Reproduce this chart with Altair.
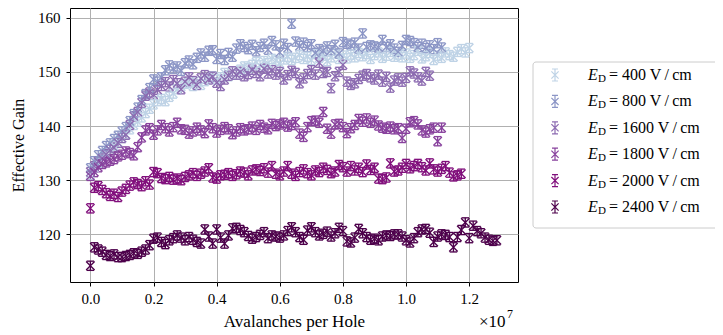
import altair as alt
import pandas as pd

# ---------------- data ----------------
labels = ["400", "800", "1600", "1800", "2000", "2400"]
colors = ["#bfd3e6", "#8c96c6", "#8c6bb1", "#88419d", "#810f7c", "#4d004b"]
step = 0.0125  # spacing of measurements, in units of 1e7 avalanches per hole
err = 0.85     # half height of error bars

y_400 = [131.0, 132.3, 133.2, 134.0, 134.9, 135.6, 136.4, 137.0,
         137.8, 138.5, 139.4, 140.2, 140.8, 141.6, 142.4, 143.2,
         144.0, 144.6, 145.0, 144.6, 145.4, 146.0, 146.8, 147.3,
         147.8, 148.0, 147.4, 148.2, 147.6, 148.3, 148.8, 149.2,
         148.6, 149.0, 149.8, 149.2, 150.1, 149.5, 150.4, 151.0,
         150.7, 151.3, 151.8, 151.2, 152.0, 151.6, 152.4, 152.1,
         151.6, 152.3, 152.8, 152.2, 152.6, 153.1, 152.4, 152.8,
         152.2, 153.3, 152.6, 153.0, 152.0, 152.7, 153.4, 152.4,
         153.0, 152.5, 153.2, 152.7, 153.5, 152.9, 153.3, 152.4,
         153.1, 153.6, 152.6, 153.0, 153.7, 152.8, 153.2, 152.7,
         153.4, 152.6, 153.1, 153.9, 152.5, 152.9, 153.5, 152.2,
         153.0, 152.6, 153.6, 153.1, 152.8, 153.7, 154.2, 153.6,
         154.4]
y_800 = [132.2, 133.5, 134.6, 135.4, 136.3, 136.8, 137.6, 138.2,
         139.0, 139.8, 140.9, 142.2, 143.4, 144.8, 145.9, 147.0,
         148.6, 148.2, 149.0, 150.3, 151.2, 150.6, 151.0, 150.2,
         151.6, 152.1, 151.4, 152.6, 153.4, 152.8, 153.9, 154.0,
         152.4, 153.3, 152.2, 153.5, 152.8, 154.3, 155.1, 154.6,
         154.2, 155.0, 153.8, 154.6, 155.2, 154.1, 155.7, 154.9,
         153.6, 155.2, 154.4, 158.9, 155.6, 154.8, 155.4, 154.6,
         155.1, 153.5, 154.2, 153.9, 154.7, 154.0, 155.0, 153.4,
         155.5, 155.2, 154.9, 155.4, 154.3, 157.1, 154.6, 154.9,
         154.7, 154.5, 155.9, 154.6, 155.1, 154.3, 153.7, 154.8,
         155.9, 155.7, 155.3, 154.6, 155.2, 154.4, 154.9, 154.2,
         155.3, 154.5]
y_1600 = [131.5, 132.6, 133.4, 134.0, 134.8, 135.6, 136.0, 136.9,
          137.8, 138.4, 140.2, 141.8, 142.6, 144.3, 145.6, 146.2,
          145.8, 146.7, 147.4, 148.1, 147.3, 148.5, 147.9, 146.8,
          148.2, 149.0, 148.3, 147.6, 148.8, 149.4, 148.6, 149.1,
          148.0, 147.4, 148.6, 149.3, 150.1, 149.5, 150.0, 149.2,
          149.6, 150.4, 149.8, 149.2, 150.6, 149.7, 150.3, 149.5,
          150.0, 148.6, 149.4, 150.2, 149.8, 147.9, 148.8, 149.6,
          150.3, 149.5, 151.7, 149.8, 150.0, 147.0, 149.2, 150.0,
          151.3, 148.2, 147.6, 147.9, 148.7, 149.3, 149.6, 149.0,
          148.6, 149.5, 148.2, 149.1, 147.1, 148.4, 148.8, 148.2,
          148.9, 150.1, 149.7, 149.0, 148.4, 150.0, 149.3]
y_1800 = [130.8, 131.5, 132.4, 133.0, 133.3, 133.6, 133.9, 134.4,
          134.7, 135.3, 135.0, 134.6, 136.1, 137.9, 139.2, 139.6,
          138.4, 139.2, 140.2, 139.6, 139.0, 139.8, 140.6, 139.4,
          139.3, 138.6, 139.0, 139.7, 139.2, 138.7, 140.3, 139.6,
          138.8, 139.3, 139.8, 139.4, 138.5, 139.0, 139.6, 139.2,
          139.4, 139.9, 139.3, 140.2, 139.7, 139.4, 140.4, 140.0,
          140.3, 140.6, 139.9, 140.2, 140.7, 138.6, 138.0, 139.8,
          140.9, 141.0, 140.6, 142.6, 139.5, 138.6, 140.3, 140.4,
          139.8, 138.7, 139.6, 140.2, 141.3, 140.8, 141.4, 140.6,
          141.0, 140.1, 139.7, 139.5, 139.9, 139.4, 139.6, 137.8,
          139.5, 140.7, 140.9, 140.3, 139.2, 138.8, 139.4, 139.7,
          137.2, 139.7]
y_2000 = [124.8, 128.6, 128.9, 128.2, 127.6, 127.1, 127.5, 126.9,
          127.9, 128.4, 129.0, 129.6, 129.3, 128.9, 129.8, 129.2,
          131.5, 131.3, 130.4, 130.2, 130.6, 130.1, 130.3, 130.0,
          130.6, 130.9, 131.3, 130.8, 131.2, 131.6, 132.2, 130.5,
          130.3, 130.9, 131.0, 131.3, 130.8, 131.1, 131.6, 131.4,
          130.9, 131.8, 132.0, 131.7, 132.2, 131.4, 132.6, 131.2,
          130.9, 131.6, 132.6, 131.2, 130.8, 131.5, 132.0, 131.3,
          130.9, 131.8, 131.5, 132.3, 131.9, 131.3, 131.6, 132.8,
          132.4, 131.6, 132.6, 131.8, 132.3, 131.5, 132.9, 131.9,
          132.3, 130.3, 130.2, 130.5, 133.1, 131.6, 131.8, 132.3,
          133.0, 132.2, 132.6, 133.0, 132.4, 131.8, 133.1, 132.0,
          131.6, 132.1, 132.6, 131.4, 130.7, 130.9, 131.2]
y_2400 = [114.2, 117.6, 117.2, 116.8, 116.2, 116.0, 116.3, 115.8,
          115.8, 116.0, 116.2, 116.5, 116.4, 116.8, 117.2, 118.0,
          119.2, 119.4, 118.6, 118.2, 118.9, 119.3, 119.8, 119.4,
          118.9, 119.5, 119.0, 118.6, 118.3, 120.9, 119.6, 118.3,
          120.9, 119.4, 118.3, 119.8, 121.1, 121.2, 120.8, 120.4,
          119.7, 119.2, 119.5, 119.9, 120.4, 119.3, 119.8, 119.6,
          119.4, 119.8, 120.6, 121.3, 120.4, 119.5, 119.0, 120.7,
          121.3, 120.4, 119.8, 120.1, 120.5, 119.6, 120.2, 121.2,
          120.6, 118.7, 118.5, 119.4, 121.0, 120.2, 119.5, 119.0,
          119.2, 118.9, 119.6, 119.8, 119.7, 120.0, 120.0, 119.6,
          118.9, 118.5, 119.3, 120.4, 120.9, 121.0, 120.3, 118.6,
          119.6, 120.0, 119.9, 119.5, 117.6, 119.5, 120.8, 122.2,
          119.3, 121.6, 120.6, 120.2, 119.4, 119.0, 118.8, 118.9]
series_values = [y_400, y_800, y_1600, y_1800, y_2000, y_2400]

x_ticks = [0.0, 0.2, 0.4, 0.6, 0.8, 1.0, 1.2]
y_ticks = [120, 130, 140, 150, 160]
legend_text = ["= 400 V\u2009/\u2009cm", "= 800 V\u2009/\u2009cm", "= 1600 V\u2009/\u2009cm",
               "= 1800 V\u2009/\u2009cm", "= 2000 V\u2009/\u2009cm", "= 2400 V\u2009/\u2009cm"]

rows = []
for lab, ys in zip(labels, series_values):
    for i, v in enumerate(ys):
        rows.append({"series": lab, "x": i * step, "y": v,
                     "lo": v - err, "hi": v + err})
df = pd.DataFrame(rows)
leg_df = pd.DataFrame({"series": labels, "label": legend_text})
one = pd.DataFrame({"a": [0]})

FONT = "Liberation Serif"
W, H = 448, 274
SW = 1.35

xsc = alt.Scale(domain=[-0.0645, 1.3545], nice=False, zero=False)
ysc = alt.Scale(domain=[111.2, 161.8], nice=False, zero=False)
col = alt.Color("series:N", scale=alt.Scale(domain=labels, range=colors), legend=None)

xax = alt.Axis(values=x_ticks, format=".1f", title="Avalanches per Hole",
               grid=True, titlePadding=7, labelPadding=5)
yax = alt.Axis(values=y_ticks, format="d", title="Effective Gain",
               grid=True, titlePadding=11, labelPadding=6, titleFontSize=16)

base = alt.Chart(df)
bars = base.mark_rule(strokeWidth=SW).encode(
    x=alt.X("x:Q", scale=xsc, axis=xax),
    y=alt.Y("lo:Q", scale=ysc, axis=yax),
    y2="hi:Q", color=col)
cap_lo = base.mark_point(shape="M-1,0L1,0", size=56, filled=False, strokeWidth=SW, opacity=1).encode(
    x=alt.X("x:Q", scale=xsc), y=alt.Y("lo:Q", scale=ysc), color=col)
cap_hi = base.mark_point(shape="M-1,0L1,0", size=56, filled=False, strokeWidth=SW, opacity=1).encode(
    x=alt.X("x:Q", scale=xsc), y=alt.Y("hi:Q", scale=ysc), color=col)
pts = base.mark_point(shape="M-1,-1L1,1M-1,1L1,-1", size=72, filled=False, strokeWidth=SW, opacity=1).encode(
    x=alt.X("x:Q", scale=xsc), y=alt.Y("y:Q", scale=ysc), color=col)

offset_main = alt.Chart(one).mark_text(text="×10", font=FONT, fontSize=17, align="left",
                                       baseline="alphabetic", color="black").encode(
    x=alt.value(409), y=alt.value(319))
offset_exp = alt.Chart(one).mark_text(text="7", font=FONT, fontSize=12, align="left",
                                      baseline="alphabetic", color="black").encode(
    x=alt.value(437), y=alt.value(310))

main = alt.layer(bars, cap_lo, cap_hi, pts, offset_main, offset_exp)

# legend
box = alt.Chart(one).mark_rect(fill="white", stroke="#cccccc", strokeWidth=1, cornerRadius=3).encode(
    x=alt.value(463), x2=alt.value(652), y=alt.value(54), y2=alt.value(220))
lsc = alt.Scale(domain=labels, range=[67, 199], padding=0)
ly = alt.Y("series:N", scale=lsc, axis=None, sort=labels)
lbase = alt.Chart(leg_df)
lsym = lbase.mark_point(
    shape="M0,-1L0,1M-0.5,-1L0.5,-1M-0.5,1L0.5,1M-0.6,-0.6L0.6,0.6M-0.6,0.6L0.6,-0.6",
    size=144, filled=False, strokeWidth=1.2, opacity=1).encode(x=alt.value(485), y=ly, color=col)
lE = lbase.mark_text(text="E", font=FONT, fontSize=16, fontStyle="italic", align="left",
                     baseline="middle", color="black").encode(x=alt.value(518), y=ly)
lD = lbase.mark_text(text="D", font=FONT, fontSize=11, align="left", baseline="middle",
                     dy=4, color="black").encode(x=alt.value(528), y=ly)
lT = lbase.mark_text(font=FONT, fontSize=16, align="left", baseline="middle",
                     color="black").encode(x=alt.value(539), y=ly, text="label:N")
legend = alt.layer(box, lsym, lE, lD, lT)

chart = alt.layer(main, legend).resolve_scale(y="independent").properties(
    width=W, height=H,
    autosize=alt.AutoSizeParams(type="none"),
    padding={"left": 62, "top": 0, "right": 197, "bottom": 53},
).configure_view(stroke="black", strokeWidth=1).configure_axis(
    labelFont=FONT, titleFont=FONT, labelFontSize=15, titleFontSize=17,
    titleFontWeight="normal", labelColor="black", titleColor="black",
    domain=False, tickColor="black", tickSize=4, tickWidth=1,
    gridColor="#b0b0b0", gridWidth=1, gridOpacity=1,
)

chart.save("out.html", embed_options={"renderer": "svg", "actions": False})
